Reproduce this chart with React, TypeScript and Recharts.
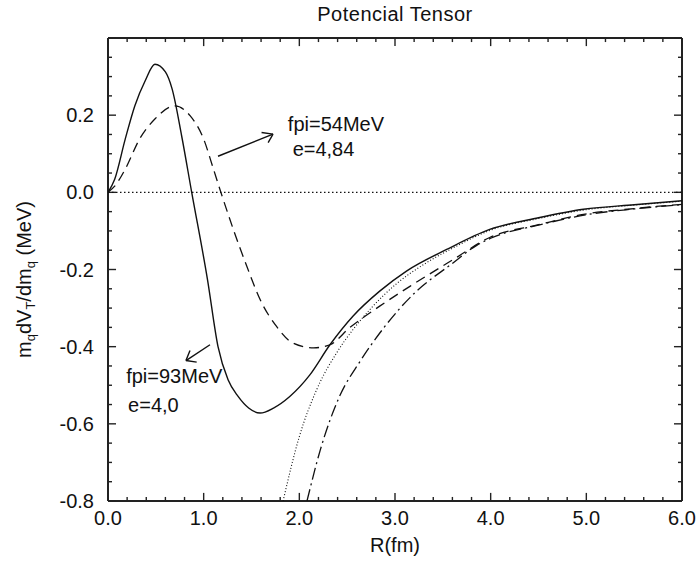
import React from 'react';
import { LineChart, Line, XAxis, YAxis, ReferenceLine, ReferenceDot } from 'recharts';

// curves, R in fm, value in MeV
const fpi93 = [
  { x: 0, y: 0 }, { x: 0.07, y: 0.034 }, { x: 0.18, y: 0.138 }, { x: 0.28, y: 0.224 },
  { x: 0.39, y: 0.29 }, { x: 0.49, y: 0.332 }, { x: 0.6, y: 0.312 }, { x: 0.67, y: 0.268 },
  { x: 0.77, y: 0.146 }, { x: 0.875, y: 0.0 }, { x: 1.04, y: -0.226 }, { x: 1.15, y: -0.4 },
  { x: 1.255, y: -0.486 }, { x: 1.36, y: -0.529 }, { x: 1.47, y: -0.559 }, { x: 1.59, y: -0.572 },
  { x: 1.73, y: -0.559 }, { x: 1.9, y: -0.529 }, { x: 2.11, y: -0.473 }, { x: 2.32, y: -0.395 },
  { x: 2.56, y: -0.321 }, { x: 2.84, y: -0.256 }, { x: 3.12, y: -0.204 }, { x: 3.54, y: -0.148 },
  { x: 3.99, y: -0.096 }, { x: 4.5, y: -0.066 }, { x: 4.97, y: -0.044 }, { x: 5.5, y: -0.032 },
  { x: 6.0, y: -0.022 },
];

const fpi54 = [
  { x: 0, y: 0 }, { x: 0.07, y: 0.016 }, { x: 0.18, y: 0.06 }, { x: 0.33, y: 0.138 },
  { x: 0.49, y: 0.19 }, { x: 0.7, y: 0.224 }, { x: 0.86, y: 0.198 }, { x: 1.0, y: 0.138 },
  { x: 1.1, y: 0.062 }, { x: 1.18, y: 0.0 }, { x: 1.31, y: -0.096 }, { x: 1.45, y: -0.191 },
  { x: 1.59, y: -0.278 }, { x: 1.76, y: -0.347 }, { x: 1.93, y: -0.39 }, { x: 2.15, y: -0.403 },
  { x: 2.32, y: -0.395 }, { x: 2.53, y: -0.35 }, { x: 2.84, y: -0.295 }, { x: 3.16, y: -0.243 },
  { x: 3.61, y: -0.174 }, { x: 3.99, y: -0.117 }, { x: 4.5, y: -0.084 }, { x: 4.97, y: -0.057 },
  { x: 5.5, y: -0.042 }, { x: 6.0, y: -0.031 },
];

const dotted = [
  { x: 1.83, y: -0.8 }, { x: 2.0, y: -0.633 }, { x: 2.18, y: -0.512 }, { x: 2.39, y: -0.416 },
  { x: 2.56, y: -0.356 }, { x: 2.77, y: -0.295 }, { x: 3.02, y: -0.236 }, { x: 3.3, y: -0.187 },
  { x: 3.6, y: -0.145 }, { x: 4.0, y: -0.098 }, { x: 4.5, y: -0.068 }, { x: 5.0, y: -0.045 },
  { x: 5.5, y: -0.033 }, { x: 6.0, y: -0.023 },
];

const dashDot = [
  { x: 2.08, y: -0.8 }, { x: 2.22, y: -0.667 }, { x: 2.42, y: -0.529 }, { x: 2.63, y: -0.44 },
  { x: 2.88, y: -0.352 }, { x: 3.2, y: -0.262 }, { x: 3.59, y: -0.186 }, { x: 3.85, y: -0.138 },
  { x: 4.0, y: -0.119 }, { x: 4.5, y: -0.085 }, { x: 5.0, y: -0.058 }, { x: 5.5, y: -0.043 },
  { x: 6.0, y: -0.032 },
];

const X_MIN = 0;
const X_MAX = 6;
const Y_MIN = -0.8;
const Y_MAX = 0.4;

const xTicks = [0, 0.2, 0.4, 0.6, 0.8, 1, 1.2, 1.4, 1.6, 1.8, 2, 2.2, 2.4, 2.6, 2.8, 3,
  3.2, 3.4, 3.6, 3.8, 4, 4.2, 4.4, 4.6, 4.8, 5, 5.2, 5.4, 5.6, 5.8, 6];
const xLabelled = [0, 1, 2, 3, 4, 5, 6];
const yTicks = [-0.8, -0.75, -0.7, -0.65, -0.6, -0.55, -0.5, -0.45, -0.4, -0.35, -0.3, -0.25,
  -0.2, -0.15, -0.1, -0.05, 0, 0.05, 0.1, 0.15, 0.2, 0.25, 0.3, 0.35, 0.4];
const yLabelled = [-0.8, -0.6, -0.4, -0.2, 0, 0.2];

const notes = [
  { x: 1.88, y: 0.158, text: 'fpi=54MeV' },
  { x: 1.93, y: 0.0935, text: 'e=4,84' },
  { x: 0.19, y: -0.494, text: 'fpi=93MeV' },
  { x: 0.21, y: -0.569, text: 'e=4,0' },
];

// shaft tail, head, and the two barb ends
const arrows = [
  { tail: [1.15, 0.0935], head: [1.725, 0.151], barbs: [[1.605, 0.155], [1.674, 0.129]] },
  { tail: [1.066, -0.395], head: [0.815, -0.436], barbs: [[0.857, -0.41], [0.927, -0.44]] },
];

// inward tick lengths in axis units (about 8px major / 4px minor on this plot)
const X_TICK_LEN = { major: 0.021, minor: 0.0105 };
const Y_TICK_LEN = { major: 0.084, minor: 0.042 };

const FONT = '"Liberation Sans", Arial, Helvetica, sans-serif';
const INK = '#111';
const FRAME = '#222';

const has = (list: number[], v: number) => list.some((t) => Math.abs(t - v) < 1e-6);
const nearStep = (v: number, step: number) => Math.abs(v / step - Math.round(v / step)) < 1e-6;

const BottomLabel = ({ x, y, payload }: any) =>
  has(xLabelled, payload.value) ? (
    <text x={x} y={y + 10} dy="0.71em" textAnchor="middle" fontSize={20} fontFamily={FONT} fill={INK}>
      {payload.value.toFixed(1)}
    </text>
  ) : <g />;

const LeftLabel = ({ x, y, payload }: any) => {
  const v = payload.value;
  return has(yLabelled, v) ? (
    <text x={x - 14} y={y} dy="0.355em" textAnchor="end" fontSize={20} fontFamily={FONT} fill={INK}>
      {Math.abs(v) < 1e-9 ? '0.0' : v.toFixed(1)}
    </text>
  ) : <g />;
};

const YTitle = ({ viewBox }: any) => {
  const cx = viewBox.x + 31;
  const cy = viewBox.y + viewBox.height / 2 + 10;
  return (
    <text x={cx} y={cy} transform={`rotate(-90 ${cx} ${cy})`} textAnchor="middle" fontSize={20} fontFamily={FONT} fill={INK}>
      <tspan>m</tspan>
      <tspan fontSize={13} dy={4}>q</tspan>
      <tspan dy={-4}>dV</tspan>
      <tspan fontSize={13} dy={4}>T</tspan>
      <tspan dy={-4}>/dm</tspan>
      <tspan fontSize={13} dy={4}>q</tspan>
      <tspan dy={-4}> (MeV)</tspan>
    </text>
  );
};

const XTitle = ({ viewBox }: any) => (
  <text x={viewBox.x + viewBox.width / 2} y={viewBox.y + 51} textAnchor="middle" fontSize={20} fontFamily={FONT} fill={INK}>
    R(fm)
  </text>
);

export default function App() {
  // plot frame and the inward ticks on all four sides
  const frameSegs: { key: string; a: { x: number; y: number }; b: { x: number; y: number }; w: number }[] = [
    { key: 'fl', a: { x: X_MIN, y: Y_MIN }, b: { x: X_MIN, y: Y_MAX }, w: 2 },
    { key: 'fr', a: { x: X_MAX, y: Y_MIN }, b: { x: X_MAX, y: Y_MAX }, w: 2 },
    { key: 'fb', a: { x: X_MIN, y: Y_MIN }, b: { x: X_MAX, y: Y_MIN }, w: 2 },
    { key: 'ft', a: { x: X_MIN, y: Y_MAX }, b: { x: X_MAX, y: Y_MAX }, w: 2 },
  ];
  xTicks.forEach((t, i) => {
    const len = nearStep(t, 1) ? X_TICK_LEN.major : X_TICK_LEN.minor;
    frameSegs.push({ key: `xb${i}`, a: { x: t, y: Y_MIN }, b: { x: t, y: Y_MIN + len }, w: 1.4 });
    frameSegs.push({ key: `xt${i}`, a: { x: t, y: Y_MAX }, b: { x: t, y: Y_MAX - len }, w: 1.4 });
  });
  yTicks.forEach((t, i) => {
    const len = nearStep(t, 0.2) ? Y_TICK_LEN.major : Y_TICK_LEN.minor;
    frameSegs.push({ key: `yl${i}`, a: { x: X_MIN, y: t }, b: { x: X_MIN + len, y: t }, w: 1.4 });
    frameSegs.push({ key: `yr${i}`, a: { x: X_MAX, y: t }, b: { x: X_MAX - len, y: t }, w: 1.4 });
  });

  return (
    <div style={{ position: 'absolute', left: 0, top: 0, width: 697, height: 562, background: '#fff' }}>
      <div
        style={{
          position: 'absolute', left: 108, top: 4, width: 574, textAlign: 'center',
          fontFamily: FONT, fontSize: 20, lineHeight: '20px', letterSpacing: 0.5, color: INK,
        }}
      >
        Potencial Tensor
      </div>
      <LineChart width={697} height={562} margin={{ top: 38, right: 15, bottom: 0, left: 0 }}>
        <XAxis
          dataKey="x"
          type="number"
          domain={[X_MIN, X_MAX]}
          ticks={xTicks}
          interval={0}
          allowDataOverflow
          height={61}
          tickSize={0}
          tickMargin={0}
          tickLine={false}
          axisLine={false}
          tick={<BottomLabel />}
          label={XTitle}
        />
        <YAxis
          yAxisId="left"
          type="number"
          domain={[Y_MIN, Y_MAX]}
          ticks={yTicks}
          interval={0}
          allowDataOverflow
          width={108}
          tickSize={0}
          tickMargin={0}
          tickLine={false}
          axisLine={false}
          tick={<LeftLabel />}
          label={YTitle}
        />

        {frameSegs.map((s) => (
          <ReferenceLine key={s.key} yAxisId="left" ifOverflow="visible" stroke={FRAME}
            strokeWidth={s.w} segment={[s.a, s.b]} />
        ))}

        <ReferenceLine yAxisId="left" y={0} stroke={INK} strokeWidth={1.2} strokeDasharray="1.5 2.5" />

        <Line yAxisId="left" data={fpi93} dataKey="y" type="monotone" stroke={INK} strokeWidth={1.4}
          dot={false} activeDot={false} isAnimationActive={false} />
        <Line yAxisId="left" data={fpi54} dataKey="y" type="monotone" stroke={INK} strokeWidth={1.3}
          strokeDasharray="10 6" dot={false} activeDot={false} isAnimationActive={false} />
        <Line yAxisId="left" data={dotted} dataKey="y" type="monotone" stroke={INK} strokeWidth={1.1}
          strokeDasharray="1 2" dot={false} activeDot={false} isAnimationActive={false} />
        <Line yAxisId="left" data={dashDot} dataKey="y" type="monotone" stroke={INK} strokeWidth={1.3}
          strokeDasharray="12 4 2 4" dot={false} activeDot={false} isAnimationActive={false} />

        {arrows.map((a, i) => (
          <React.Fragment key={`arrow-${i}`}>
            <ReferenceLine yAxisId="left" stroke={INK} strokeWidth={1.4}
              segment={[{ x: a.tail[0], y: a.tail[1] }, { x: a.head[0], y: a.head[1] }]} />
            {a.barbs.map((b, j) => (
              <ReferenceLine key={`barb-${i}-${j}`} yAxisId="left" stroke={INK} strokeWidth={1.4}
                segment={[{ x: b[0], y: b[1] }, { x: a.head[0], y: a.head[1] }]} />
            ))}
          </React.Fragment>
        ))}

        {notes.map((n) => (
          <ReferenceDot key={n.text} yAxisId="left" x={n.x} y={n.y} r={0}
            shape={(p: any) => (
              <text x={p.cx} y={p.cy} fontSize={20} fontFamily={FONT} fill={INK}>{n.text}</text>
            )} />
        ))}
      </LineChart>
    </div>
  );
}
